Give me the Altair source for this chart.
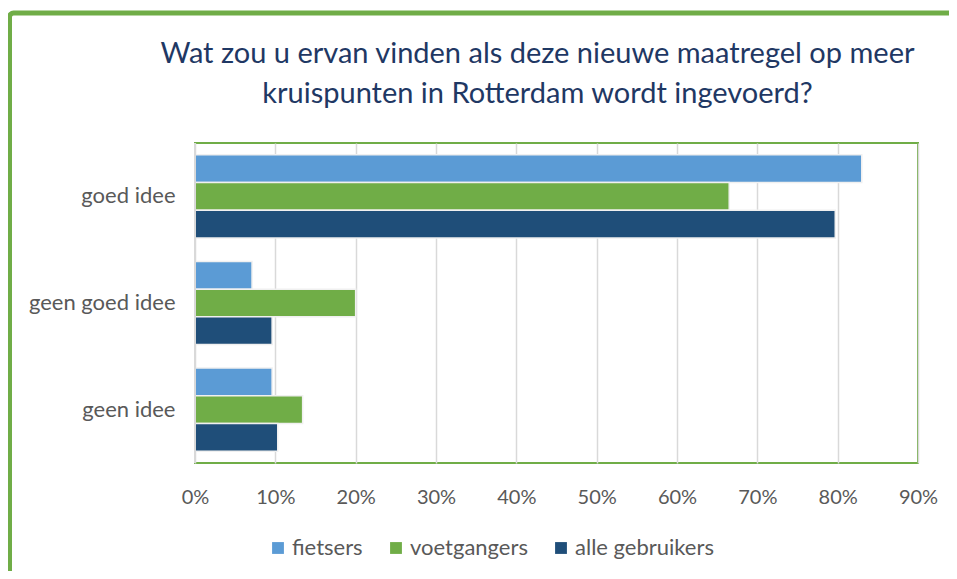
import altair as alt
import pandas as pd

categories = ["goed idee", "geen goed idee", "geen idee"]
series = ["fietsers", "voetgangers", "alle gebruikers"]
fietsers = [0.830, 0.071, 0.096]
voetgangers = [0.665, 0.200, 0.134]
alle_gebruikers = [0.797, 0.096, 0.103]
colors = ["#5B9BD5", "#70AD47", "#1F4E79"]
x_ticks = [0, 0.1, 0.2, 0.3, 0.4, 0.5, 0.6, 0.7, 0.8, 0.9]
title_lines = ["Wat zou u ervan vinden als deze nieuwe maatregel op meer",
               "kruispunten in Rotterdam wordt ingevoerd?"]

rows = []
for vals, s in zip([fietsers, voetgangers, alle_gebruikers], series):
    for c, v in zip(categories, vals):
        rows.append({"categorie": c, "groep": s, "waarde": v})
df = pd.DataFrame(rows)

FONT = "Lato"
GREY = "#595959"

bars = alt.Chart(df).mark_bar(stroke="#F0F0F0", strokeWidth=1.5).encode(
    y=alt.Y("categorie:N", sort=categories, title=None,
            scale=alt.Scale(paddingInner=0.22, paddingOuter=0.11),
            axis=alt.Axis(labelFontSize=22, labelColor=GREY, labelFont=FONT,
                          domain=False, ticks=False, tickSize=0, labelPadding=20,
                          grid=False, minExtent=10)),
    yOffset=alt.YOffset("groep:N", sort=series,
                        scale=alt.Scale(paddingInner=0, paddingOuter=0)),
    x=alt.X("waarde:Q", title=None,
            scale=alt.Scale(domain=[0, 0.9], nice=False),
            axis=alt.Axis(values=x_ticks, format=".0%", labelFontSize=20,
                          labelColor=GREY, labelFont=FONT, domain=False,
                          ticks=False, tickSize=0, labelPadding=24, grid=True,
                          gridColor="#D9D9D9", gridWidth=1.5, labelFlush=False)),
    color=alt.Color("groep:N", sort=series,
                    scale=alt.Scale(domain=series, range=colors),
                    legend=alt.Legend(title=None, orient="none", direction="horizontal",
                                      legendX=72, legendY=394,
                                      symbolType="square", symbolSize=140,
                                      symbolStrokeWidth=0, labelFontSize=22,
                                      labelColor=GREY, labelFont=FONT,
                                      labelOffset=3, columnPadding=22, padding=0)),
)

left_edge = alt.Chart(pd.DataFrame({"e": [0]})).mark_rule(
    color="#D9D9D9", strokeWidth=2
).encode(x=alt.value(0), y=alt.value(0), y2=alt.value(320))

frame = alt.Chart(pd.DataFrame({"f": [0]})).mark_rect(
    fill=None, fillOpacity=0, stroke="#70AD47", strokeWidth=5, cornerRadius=4
).encode(
    x=alt.value(-185.5), x2=alt.value(900),
    y=alt.value(-130), y2=alt.value(600)
)

chart = alt.layer(bars, left_edge, frame).properties(
    width=723, height=320,
    autosize=alt.AutoSizeParams(type="none"),
    padding={"left": 187, "top": 135, "right": 31, "bottom": 108},
    title=alt.Title(text=title_lines, anchor="middle", fontSize=29, font=FONT,
                    fontWeight="normal", color="#1F3864", lineHeight=40,
                    baseline="alphabetic", dx=-19, dy=121, offset=0),
).configure_view(stroke="#70AD47", strokeWidth=2)

chart.save("out.html", embed_options={"renderer": "svg", "actions": False})
